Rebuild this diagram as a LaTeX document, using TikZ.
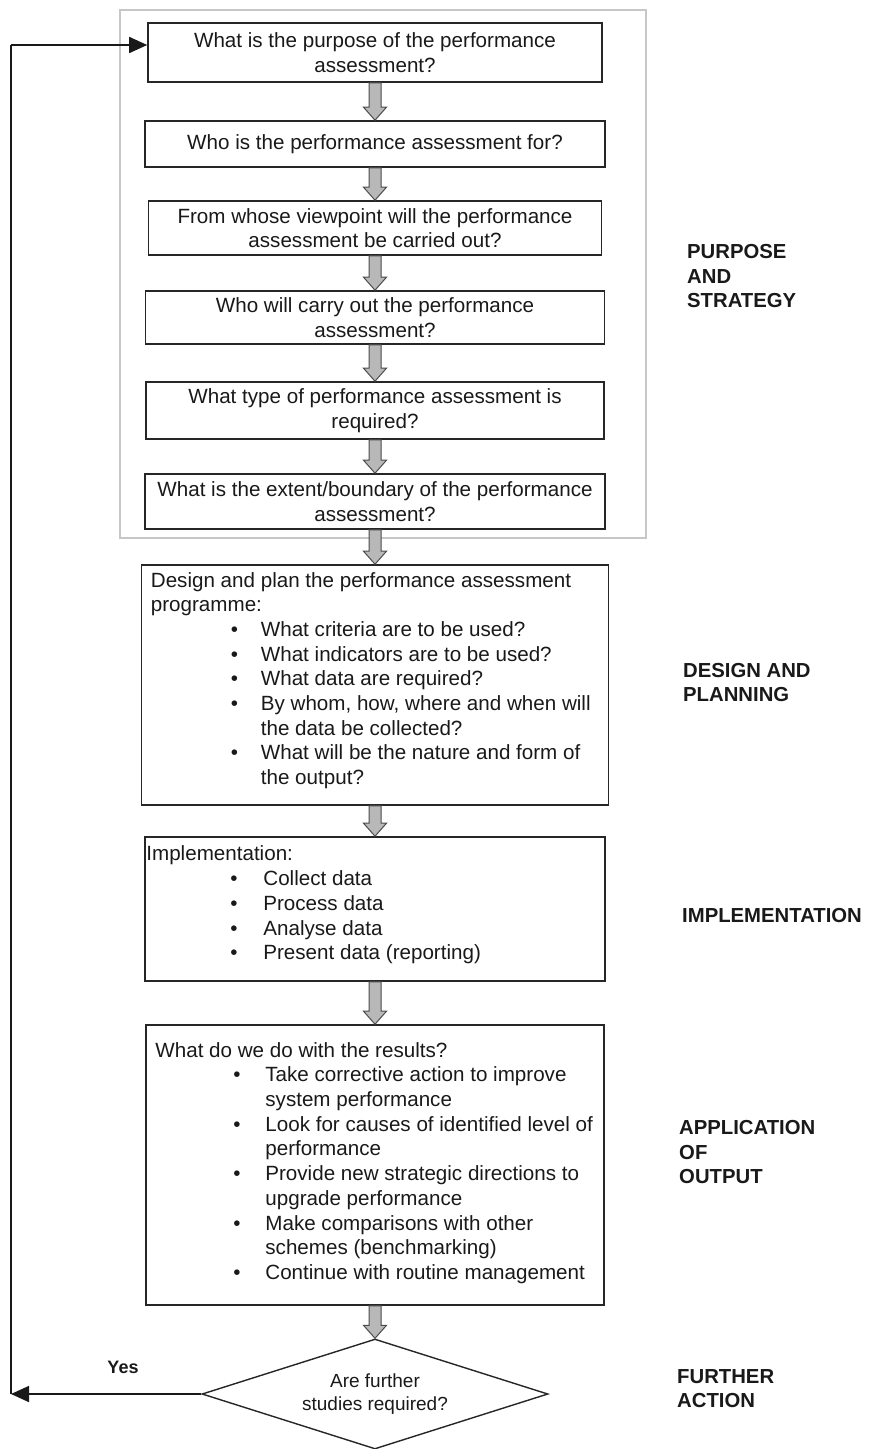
\documentclass[tikz,border=0pt]{standalone}
\usepackage{fontspec}
\setmainfont{Liberation Sans}
\usetikzlibrary{shapes.geometric,arrows.meta,calc}
\newcommand\bulitem[2]{\hspace*{#1pt}\makebox[\dimexpr#2pt-#1pt\relax][l]{\textbullet}}
\newcommand\bulcont[1]{\hspace*{#1pt}}
\newcommand\harrow[2]{%
  \path[hollowarrow] let \p1=(#1.south), \p2=(#2.north) in
    (\x1-6pt,\y1) -- (\x1+6pt,\y1) -- (\x1+6pt,\y2+13pt) -- (\x1+11.5pt,\y2+13pt)
    -- (\x1,\y2) -- (\x1-11.5pt,\y2+13pt) -- (\x1-6pt,\y2+13pt) -- cycle;}
\begin{document}
\begin{tikzpicture}[x=1pt,y=-1pt,
  box/.style={draw=black!85, line width=1.6pt, inner sep=0pt, align=center,
    text=black!90, font=\fontsize{20.6}{24.5}\selectfont},
  txt/.style={inner sep=0pt, align=left, anchor=west, text=black!90,
    font=\fontsize{20.6}{24.7}\selectfont},
  lab/.style={inner sep=0pt, align=left, anchor=north west, text=black!90,
    font=\bfseries\fontsize{20.3}{24.5}\selectfont},
  hollowarrow/.style={draw=black!70, fill=black!28, line width=1pt},
  loopline/.style={draw=black!90, line width=1.6pt},
  looparrow/.style={loopline, -{Triangle[length=18pt,width=16pt]}},
  frame/.style={draw=black!22, line width=1.5pt, inner sep=0pt}
]
\useasboundingbox (0,0) rectangle (870,1449);

% outer frame
\node[frame, minimum width=526pt, minimum height=528pt] (frm) at (383,274) {};

% purpose and strategy boxes
\node[box, minimum width=454pt, minimum height=59pt] (b1) at (375,52.5)
  {What is the purpose of the performance\\assessment?};
\node[box, minimum width=460pt, minimum height=46pt] (b2) at (375,144)
  {Who is the performance assessment for?};
\node[box, minimum width=453pt, minimum height=54pt] (b3) at (375,228)
  {From whose viewpoint will the performance\\assessment be carried out?};
\node[box, minimum width=459pt, minimum height=53pt] (b4) at (375,317.5)
  {Who will carry out the performance\\assessment?};
\node[box, minimum width=458pt, minimum height=57pt] (b5) at (375,410.5)
  {What type of performance assessment is\\required?};
\node[box, minimum width=460pt, minimum height=55pt] (b6) at (375,501.5)
  {What is the extent/boundary of the performance\\assessment?};

% design and planning
\node[box, minimum width=467pt, minimum height=240pt] (b7) at (375,685) {};
\node[txt] (t7) at ($(b7.west)+(10,-4.5)$)
  {Design and plan the performance assessment\\
   programme:\\
   \bulitem{80}{110}What criteria are to be used?\\
   \bulitem{80}{110}What indicators are to be used?\\
   \bulitem{80}{110}What data are required?\\
   \bulitem{80}{110}By whom, how, where and when will\\
   \bulcont{110}the data be collected?\\
   \bulitem{80}{110}What will be the nature and form of\\
   \bulcont{110}the output?};

% implementation
\node[box, minimum width=460pt, minimum height=144pt] (b8) at (375,909) {};
\node[txt] (t8) at ($(b8.west)+(2,-4)$)
  {Implementation:\\
   \bulitem{84}{117}Collect data\\
   \bulitem{84}{117}Process data\\
   \bulitem{84}{117}Analyse data\\
   \bulitem{84}{117}Present data (reporting)};

% application of output
\node[box, minimum width=458pt, minimum height=280pt] (b9) at (375,1165) {};
\node[txt] (t9) at ($(b9.west)+(10,-2)$)
  {What do we do with the results?\\
   \bulitem{78}{110}Take corrective action to improve\\
   \bulcont{110}system performance\\
   \bulitem{78}{110}Look for causes of identified level of\\
   \bulcont{110}performance\\
   \bulitem{78}{110}Provide new strategic directions to\\
   \bulcont{110}upgrade performance\\
   \bulitem{78}{110}Make comparisons with other\\
   \bulcont{110}schemes (benchmarking)\\
   \bulitem{78}{110}Continue with routine management};

% decision
\node[diamond, draw=black!85, line width=1.4pt, aspect=3.15, inner sep=0pt,
  minimum width=346pt, minimum height=110pt, align=center, text=black!90,
  font=\fontsize{19}{23}\selectfont] (dia) at (375,1394)
  {Are further\\studies required?};

% hollow block arrows
\harrow{b1}{b2}
\harrow{b2}{b3}
\harrow{b3}{b4}
\harrow{b4}{b5}
\harrow{b5}{b6}
\harrow{b6}{b7}
\harrow{b7}{b8}
\harrow{b8}{b9}
\harrow{b9}{dia}

% feedback loop
\coordinate (cL) at (11,1394);
\coordinate (cT) at (11,45);
\draw[loopline] (cL) -- (cT);
\draw[looparrow] (cT) -- (b1.west |- cT);
\draw[looparrow] (dia.west) -- (cL);
\node[inner sep=0pt, anchor=north, text=black!90,
  font=\bfseries\fontsize{18}{21}\selectfont] (yes) at (123,1361) {Yes};

% stage labels
\node[lab] (l1) at (687,244.5) {PURPOSE\\AND\\STRATEGY};
\node[lab] (l2) at (683,663) {DESIGN AND\\PLANNING};
\node[lab] (l3) at (682,908) {IMPLEMENTATION};
\node[lab] (l4) at (679,1120.5) {APPLICATION\\OF\\OUTPUT};
\node[lab] (l5) at (677,1369) {FURTHER\\ACTION};
\end{tikzpicture}
\end{document}
